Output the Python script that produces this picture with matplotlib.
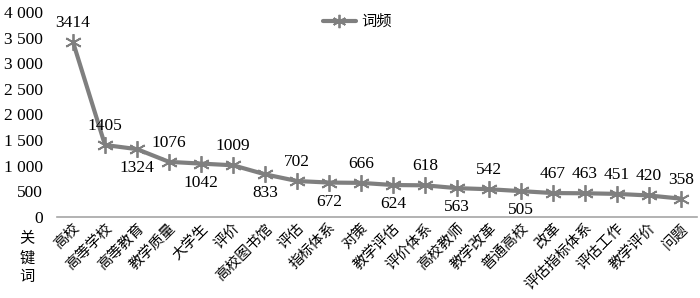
import matplotlib
matplotlib.use("Agg")
import matplotlib.pyplot as plt
from matplotlib.ticker import FuncFormatter, MultipleLocator

plt.rcParams['font.family'] = ['Liberation Serif', 'Noto Sans CJK SC', 'DejaVu Sans']

keywords = ["高校", "高等学校", "高等教育", "教学质量", "大学生", "评价", "高校图书馆",
            "评估", "指标体系", "对策", "教学评估", "评价体系", "高校教师", "教学改革",
            "普通高校", "改革", "评估指标体系", "评估工作", "教学评价", "问题"]
freq = [3414, 1405, 1324, 1076, 1042, 1009, 833, 702, 672, 666, 624, 618, 563, 542,
        505, 467, 463, 451, 420, 358]
label_above = [True, True, False, True, False, True, False, True, False, True, False,
               True, False, True, False, True, True, True, True, True]

fig = plt.figure(figsize=(7.0, 2.98), dpi=100)
ax = fig.add_axes([57/700, 1-217/298, 640/700, 205/298])

x = list(range(len(keywords)))
color = '#7f7f7f'
ax.plot(x, freq, color=color, lw=3, marker=(6, 2, 0), ms=12, mew=1.3,
        mec=color, label='词频', solid_capstyle='round')

for xi, v, up in zip(x, freq, label_above):
    if up:
        ax.annotate(str(v), (xi, v), xytext=(0, 8), textcoords='offset points',
                    ha='center', va='bottom', fontsize=12.5)
    else:
        ax.annotate(str(v), (xi, v), xytext=(0, -8), textcoords='offset points',
                    ha='center', va='top', fontsize=12.5)

ax.set_xlim(-0.5, len(keywords) - 0.5)
ax.set_ylim(0, 4000)
ax.yaxis.set_major_locator(MultipleLocator(500))
ax.yaxis.set_major_formatter(FuncFormatter(lambda v, p: f"{int(v):,}".replace(',', ' ')))
ax.set_xticks(x)
ax.set_xticklabels(keywords, rotation=45, ha='right', va='top', rotation_mode='anchor',
                   fontsize=10.5)
ax.tick_params(axis='x', length=0, pad=3)
ax.tick_params(axis='y', length=0, pad=10, labelsize=12.5)
for s in ['left', 'right', 'top']:
    ax.spines[s].set_visible(False)
ax.spines['bottom'].set_color('#a6a6a6')
ax.spines['bottom'].set_linewidth(1.2)

fig.text(27/700, 1-258/298, "关\n键\n词", ha='center', va='center', fontsize=11,
         linespacing=1.5)

leg = fig.legend(loc='center', bbox_to_anchor=(357/700, 1-22/298), frameon=False,
                 fontsize=11, handlelength=2.2, handletextpad=0.3, markerscale=0.8)

fig.savefig("out.png", dpi=100)
